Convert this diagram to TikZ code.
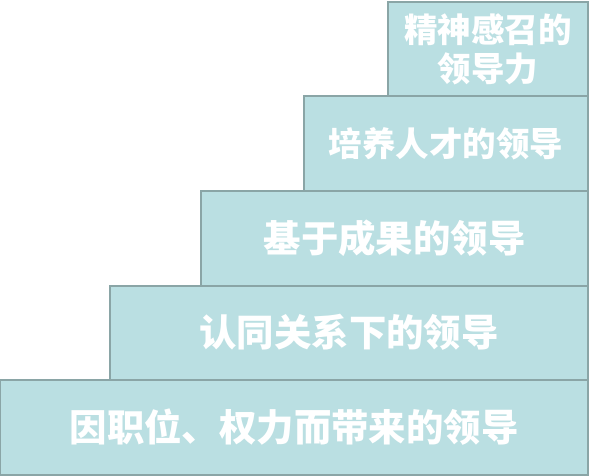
\documentclass[tikz,border=0pt]{standalone}
\usepackage{fontspec}
\newfontfamily\cjk{Noto Sans CJK SC}
\definecolor{boxfill}{RGB}{186,223,226}
\definecolor{boxline}{RGB}{138,165,166}
\begin{document}
\begin{tikzpicture}[x=1pt,y=-1pt,
  stepbox/.style={draw=boxline, fill=boxfill, line width=2pt, anchor=north east,
    inner sep=0pt, text=white, align=center, font=\cjk\bfseries},
  big/.style={font=\cjk\bfseries\fontsize{37.4}{40}\selectfont},
  small/.style={font=\cjk\bfseries\fontsize{33.5}{38.5}\selectfont}]
\useasboundingbox (0,0) rectangle (591,476);
\node[stepbox, big, minimum width=588pt, minimum height=94.5pt] (b5) at (589,379) {因职位、权力而带来的领导};
\node[stepbox, big, minimum width=478pt, minimum height=94.5pt] (b4) at (589,284.5) {认同关系下的领导};
\node[stepbox, big, minimum width=387pt, minimum height=94.5pt] (b3) at (589,190) {基于成果的领导};
\node[stepbox, small, minimum width=284pt, minimum height=94.5pt] (b2) at (589,95.5) {培养人才的领导};
\node[stepbox, small, minimum width=200pt, minimum height=94.5pt] (b1) at (589,1) {精神感召的\\领导力};
\end{tikzpicture}
\end{document}
